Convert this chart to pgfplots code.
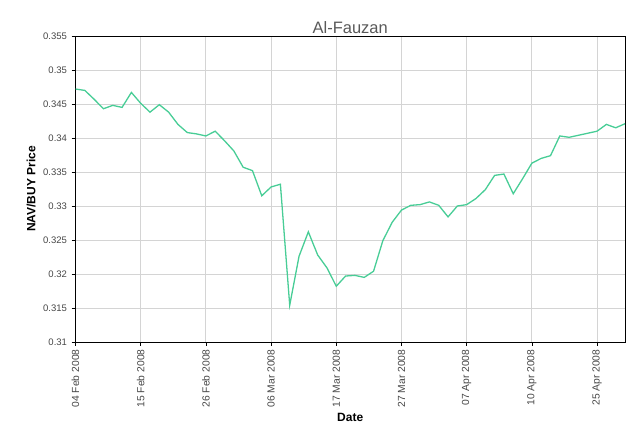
\documentclass[border=0pt]{standalone}
\usepackage{pgfplots}
\pgfplotsset{compat=1.18}
\usepackage{fontspec}
\setmainfont{Liberation Sans}
\definecolor{navline}{RGB}{72,205,150}
\definecolor{gridc}{RGB}{212,212,212}
\definecolor{tickc}{RGB}{70,70,70}
\begin{document}
\begin{tikzpicture}
\useasboundingbox (0pt,0pt) rectangle (640pt,438pt);
\pgfplotstableread{
i v
0 0.3472
1 0.3470
2 0.3457
3 0.3443
4 0.3448
5 0.3445
6 0.3467
7 0.3451
8 0.3438
9 0.3449
10 0.3438
11 0.3420
12 0.3408
13 0.3406
14 0.3403
15 0.3410
16 0.3396
17 0.3381
18 0.3357
19 0.3352
20 0.3315
21 0.3328
22 0.3332
23 0.3154
24 0.3226
25 0.3262
26 0.3228
27 0.3209
28 0.3182
29 0.3197
30 0.3198
31 0.3195
32 0.3204
33 0.3249
34 0.3276
35 0.3294
36 0.3301
37 0.3302
38 0.3306
39 0.3301
40 0.3284
41 0.3300
42 0.3302
43 0.3311
44 0.3324
45 0.3345
46 0.3347
47 0.3318
48 0.3340
49 0.3363
50 0.3370
51 0.3374
52 0.3403
53 0.3401
54 0.3404
55 0.3407
56 0.3410
57 0.3420
58 0.3415
59 0.3421
}\navdata
\begin{axis}[
  at={(75.5pt,96pt)}, anchor=south west,
  scale only axis, width=549.5pt, height=306pt,
  xmin=0, xmax=59, ymin=0.31, ymax=0.355,
  xtick={0,7,14,21,28,35,42,49,56},
  xticklabels={04 Feb 2008,15 Feb 2008,26 Feb 2008,06 Mar 2008,17 Mar 2008,27 Mar 2008,07 Apr 2008,10 Apr 2008,25 Apr 2008},
  ytick={0.31,0.315,0.32,0.325,0.33,0.335,0.34,0.345,0.35,0.355},
  yticklabels={0.31,0.315,0.32,0.325,0.33,0.335,0.34,0.345,0.35,0.355},
  scaled y ticks=false,
  tick align=outside, tick pos=left,
  major tick length=4pt,
  every tick/.style={black, line width=0.6pt},
  grid=major,
  major grid style={gridc, line width=0.9pt},
  axis line style={black, line width=0.8pt},
  ticklabel style={font=\fontsize{9.5}{10}\selectfont, text=tickc},
  xticklabel style={rotate=90, anchor=east, font=\fontsize{10.3}{11}\selectfont},
  yticklabel style={xshift=-1pt},
  title={Al-Fauzan},
  title style={font=\fontsize{16.5}{18}\selectfont, text=black!65, at={(0.5,1)}, anchor=south, yshift=-7pt},
  xlabel={Date},
  ylabel={NAV/BUY Price},
  label style={font=\bfseries\fontsize{12}{14}\selectfont},
  xlabel style={at={(axis description cs:0.5,-0.248)}, anchor=center},
  ylabel style={at={(axis description cs:-0.066,0.5)}, anchor=south},
]
\addplot[navline, line width=1.3pt] table[x=i, y=v] {\navdata};
\end{axis}
\end{tikzpicture}
\end{document}
